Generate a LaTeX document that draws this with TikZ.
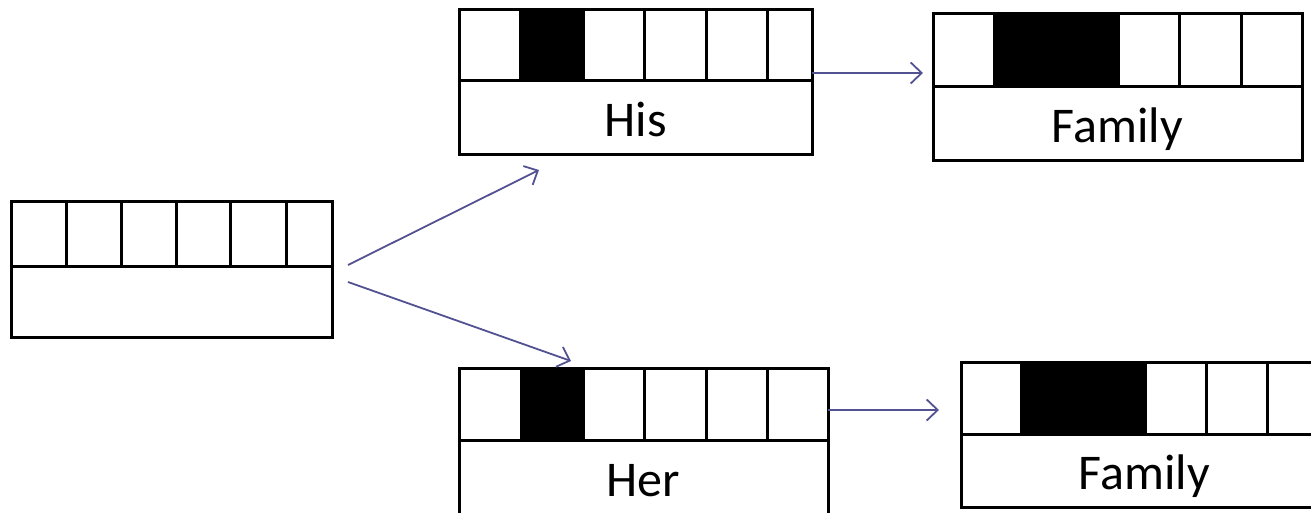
\documentclass[tikz,border=0pt]{standalone}
\usepackage{fontspec}
\setmainfont{Carlito}
\usepackage{tikz}
\usetikzlibrary{arrows.meta}
\definecolor{linkblue}{RGB}{82,82,146}
\tikzstyle{recframe}=[draw=black,line width=3pt,inner sep=0pt,outer sep=0pt]
\tikzstyle{recline}=[draw=black,line width=3pt]
\tikzstyle{slot}=[fill=black]
\tikzstyle{reclabel}=[anchor=base,inner sep=0pt,font=\fontsize{50}{60}\selectfont]
\tikzstyle{link}=[line width=1.8pt,draw=linkblue,-{Straight Barb[length=11pt,width=21pt]}]
% record: name, west, north, east, middle rule, south
\newcommand\record[6]{%
  \node[recframe,anchor=north west,minimum width={#4pt-#2pt},minimum height={#6pt-#3pt}] (#1) at (#2,#3) {};
  \draw[recline] (#2,#5) -- (#4,#5);
}

\begin{document}
\begin{tikzpicture}[x=1pt,y=-1pt]
	\useasboundingbox (0,0) rectangle (1311,513);
	% empty record on the left
	\record{root}{11}{202}{332}{266}{337}
	\foreach \d in {66,121,176,230,286} \draw[recline] (\d,202) -- (\d,266);
	% his
	\fill[slot] (520,10) rectangle (583,81);
	\record{his}{459}{10}{812}{81}{155}
	\foreach \d in {520,583,644,706,767} \draw[recline] (\d,10) -- (\d,81);
	\node[reclabel] (hislabel) at (635.5,137) {His};
	% her
	\fill[slot] (521,368) rectangle (583,440);
	\record{her}{459}{368}{828}{440}{530}
	\foreach \d in {521,583,644,706,767} \draw[recline] (\d,368) -- (\d,440);
	\node[reclabel] (herlabel) at (643.5,496) {Her};
	% family, upper
	\fill[slot] (994,14) rectangle (1118,87);
	\record{famA}{933}{14}{1302}{87}{161}
	\foreach \d in {994,1118,1179,1241} \draw[recline] (\d,14) -- (\d,87);
	\node[reclabel] (famAlabel) at (1117.5,143) {Family};
	% family, lower
	\fill[slot] (1021,362) rectangle (1145,434);
	\record{famB}{961}{362}{1328}{434}{507}
	\foreach \d in {1021,1145,1206,1267} \draw[recline] (\d,362) -- (\d,434);
	\node[reclabel] (famBlabel) at (1144.5,489) {Family};
	% links
	\coordinate (rootup) at (348,265);
	\coordinate (rootdown) at (348,282);
	\coordinate (hisin) at (539,170);
	\coordinate (herin) at (571,361);
	\coordinate (hisout) at (812,73);
	\coordinate (famAin) at (923,73);
	\coordinate (herout) at (828,410);
	\coordinate (famBin) at (939,410);
	\draw[link] (rootup) -- (hisin);
	\draw[link] (rootdown) -- (herin);
	\draw[link] (hisout) -- (famAin);
	\draw[link] (herout) -- (famBin);
\end{tikzpicture}
\end{document}
